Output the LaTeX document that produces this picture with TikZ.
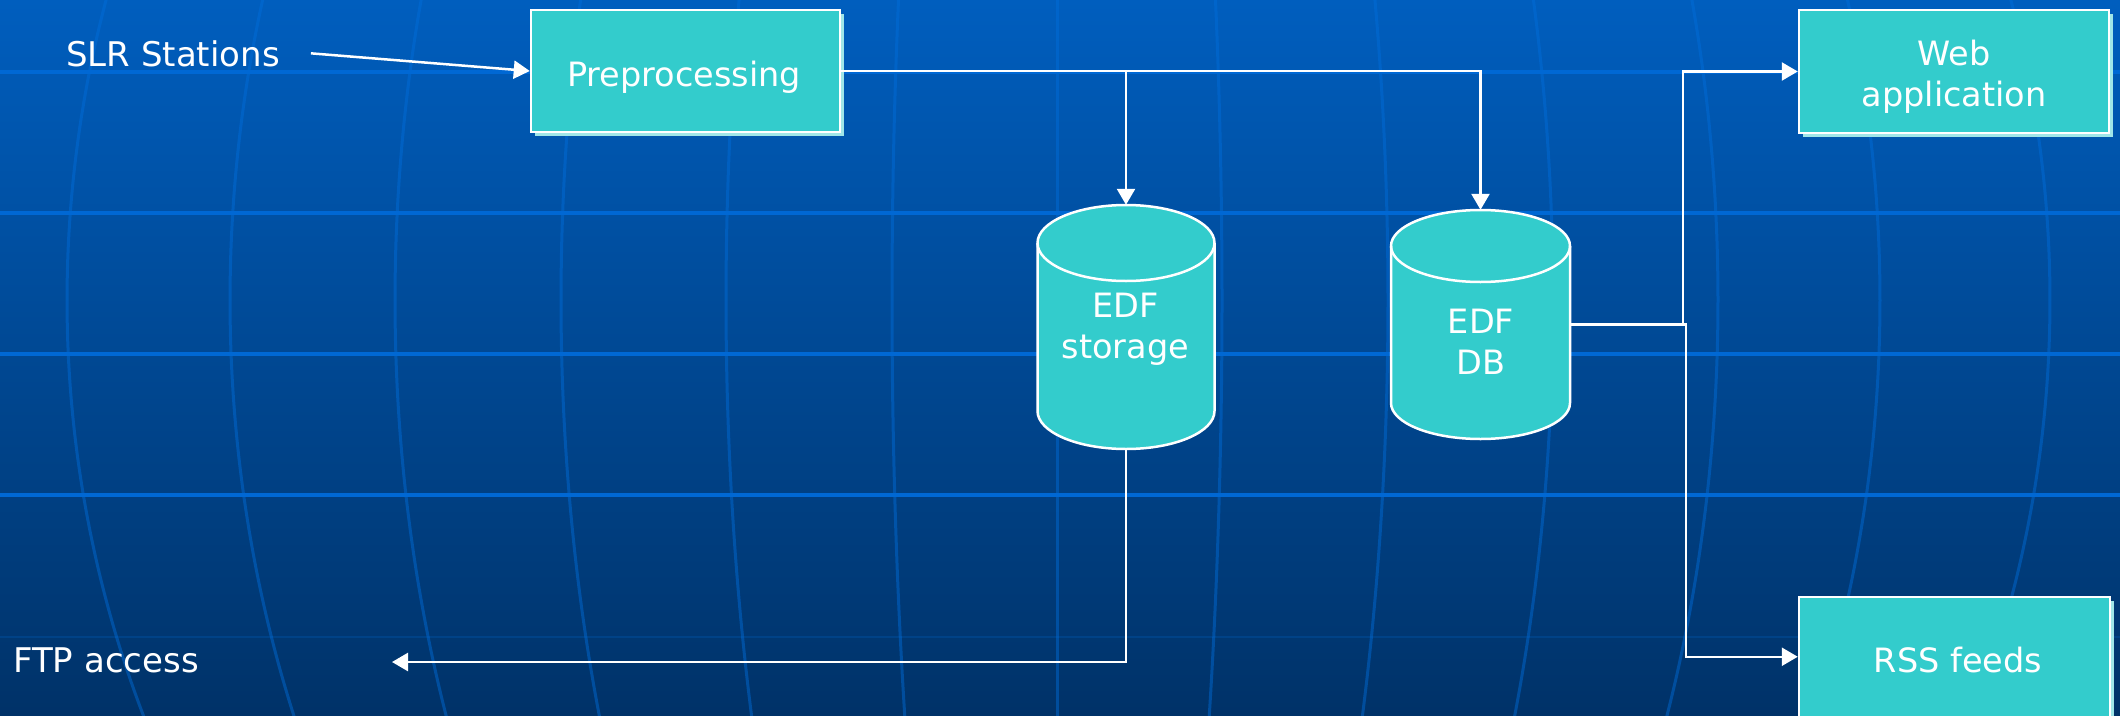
\documentclass[tikz,border=0pt]{standalone}
\usepackage{fontspec}
\setmainfont{DejaVu Sans}
\usetikzlibrary{arrows.meta,calc,shadows}

\definecolor{bgtop}{RGB}{0,94,190}
\definecolor{bgbot}{RGB}{0,50,104}
\definecolor{gridh}{RGB}{0,104,212}
\definecolor{gridv}{RGB}{0,110,220}
\definecolor{boxfill}{RGB}{51,204,204}
\definecolor{boxshade}{RGB}{160,230,232}

\begin{document}
\begin{tikzpicture}[x=1pt,y=-1pt,
  procbox/.style={rectangle, draw=white, line width=2.5pt, fill=boxfill, inner sep=0pt,
    drop shadow={shadow xshift=3.5pt, shadow yshift=-3.5pt, fill=boxshade, opacity=1}},
  drum/.style={rectangle, draw=none, inner sep=0pt},
  drumfill/.style={fill=boxfill},
  drumline/.style={draw=white, line width=2.5pt},
  inlabel/.style={text=white, inner sep=0pt, align=center, font=\fontsize{33.5}{41}\selectfont},
  outlabel/.style={text=white, inner sep=0pt, font=\fontsize{34}{41}\selectfont},
  wire/.style={draw=white, line width=2.5pt},
  link/.style={wire, -{Triangle[length=16pt,width=18pt]}},
]
\useasboundingbox (0,0) rectangle (2120,715);

% backdrop: gradient with a globe-like grid
\shade[top color=bgtop, bottom color=bgbot] (0,0) rectangle (2120,715);
\foreach \c in {67,230,395,561,726,892,1057,1222,1388,1553,1718,1880,2050}
  \draw[gridv, opacity=0.45, line width=3pt]
    plot[domain=-17:24, samples=40, smooth] ({1057+(\c-1057)*cos(\x)}, {300+1079*sin(\x)});
\foreach \y in {72,213,354,495}
  \draw[gridh, line width=3.5pt] (0,\y) -- (2120,\y);
\draw[gridv, opacity=0.2, line width=2pt] (0,637) -- (2120,637);

% process boxes
\node[procbox, minimum width=309pt, minimum height=122pt] (pre) at (685.5,71) {};
\node[procbox, minimum width=310pt, minimum height=123pt] (web) at (1954,71.5) {};
\node[procbox, minimum width=311pt, minimum height=150pt] (rss) at (1954.5,672) {};

\node[inlabel, anchor=base] (pre-t) at (684,86) {Preprocessing};
\node[inlabel, anchor=north] (web-t) at (1954,40) {Web\\application};
\node[inlabel, anchor=base] (rss-t) at (1958,672) {RSS feeds};

% storage cylinders
\node[drum, minimum width=177pt, minimum height=244pt] (stor) at (1126,327) {};
\fill[drumfill] (1037.5,243) -- (1037.5,411)
  arc[start angle=180, end angle=0, x radius=88.5, y radius=38]
  -- (1214.5,243) arc[start angle=0, end angle=-180, x radius=88.5, y radius=38] -- cycle;
\draw[drumline] (1037.5,243) -- (1037.5,411)
  arc[start angle=180, end angle=0, x radius=88.5, y radius=38]
  -- (1214.5,243) arc[start angle=0, end angle=-180, x radius=88.5, y radius=38] -- cycle;
\draw[drumline] (1037.5,243) arc[start angle=180, end angle=0, x radius=88.5, y radius=38];

\node[drum, minimum width=179pt, minimum height=229pt] (db) at (1480.5,324.5) {};
\fill[drumfill] (1391,246) -- (1391,403)
  arc[start angle=180, end angle=0, x radius=89.5, y radius=36]
  -- (1570,246) arc[start angle=0, end angle=-180, x radius=89.5, y radius=36] -- cycle;
\draw[drumline] (1391,246) -- (1391,403)
  arc[start angle=180, end angle=0, x radius=89.5, y radius=36]
  -- (1570,246) arc[start angle=0, end angle=-180, x radius=89.5, y radius=36] -- cycle;
\draw[drumline] (1391,246) arc[start angle=180, end angle=0, x radius=89.5, y radius=36];

\node[inlabel, anchor=north] (stor-t) at (1125.5,293) {EDF\\storage};
\node[inlabel, anchor=north] (db-t) at (1481,309) {EDF\\DB};

% free-standing labels
\node[outlabel, anchor=base west] (slr) at (66,66) {SLR Stations};
\node[outlabel, anchor=base west] (ftp) at (13,672) {FTP access};

% connectors
\coordinate (split) at ([xshift=113pt]db.east);
\coordinate (rssport) at ($(rss.north west)+(0,61)$);
\coordinate (ftpend) at (392,662);

\draw[link] ([xshift=31pt]slr.east) -- (pre.west);
\draw[link] (pre.east) -| (db.north);
\draw[link] (pre.east -| stor.north) -- (stor.north);
\draw[link] (split) |- (web.west);
\draw[link] (db.east) -- ++(116,0) |- (rssport);
\draw[link] (stor.south) |- (ftpend);
\end{tikzpicture}
\end{document}
